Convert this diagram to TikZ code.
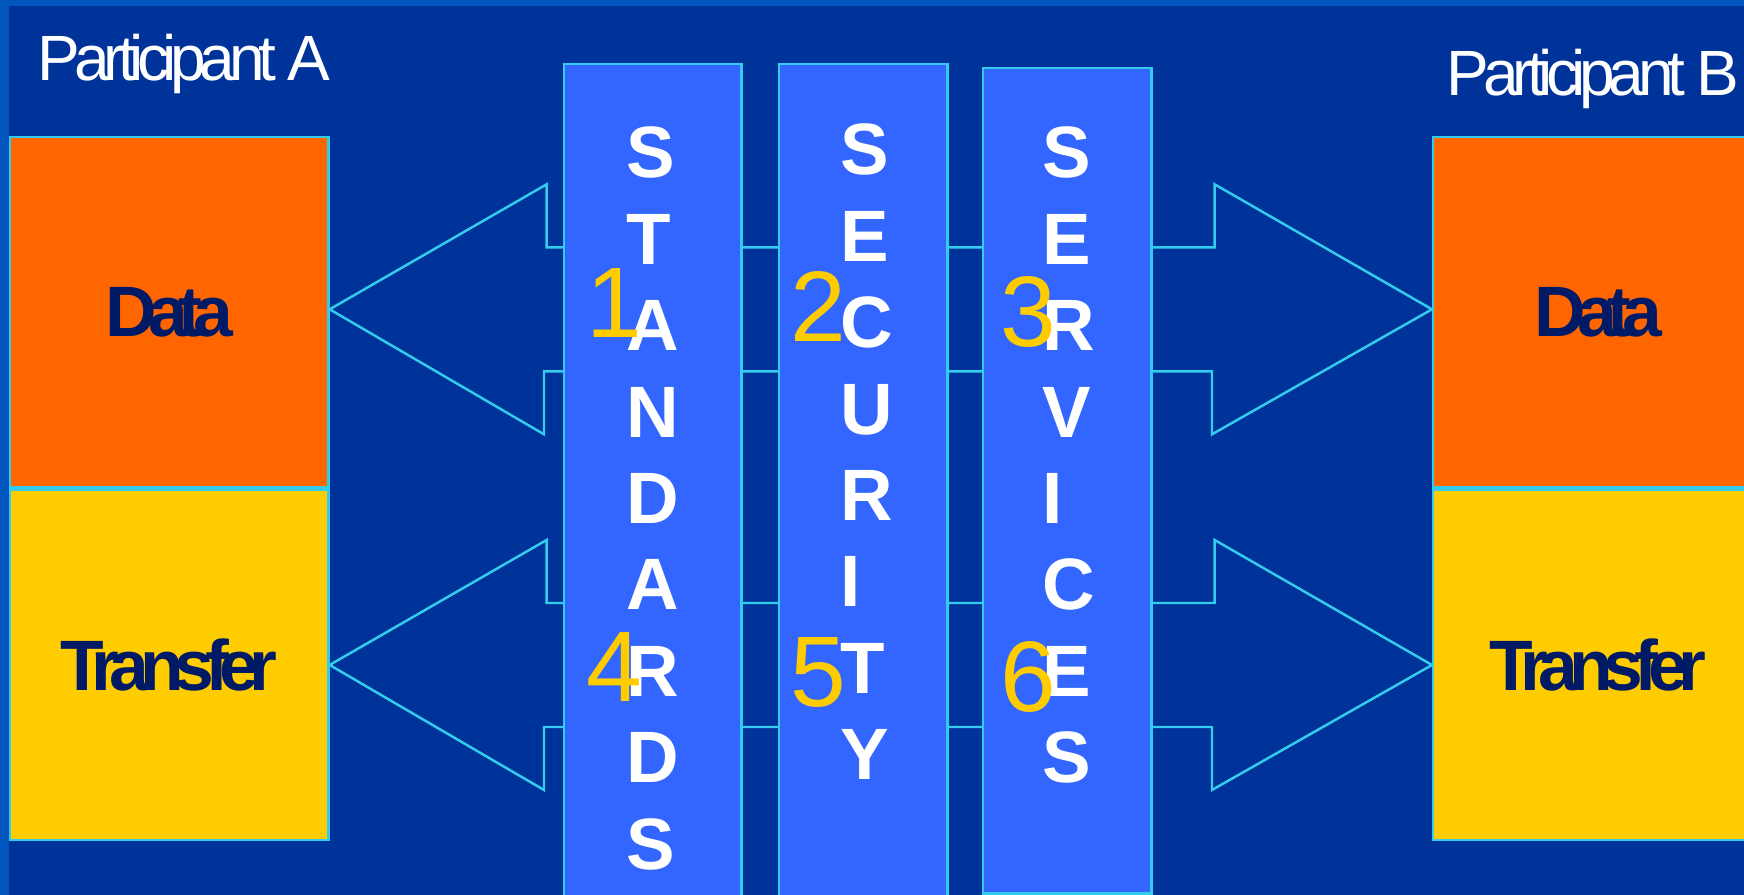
\documentclass[tikz,border=0pt]{standalone}
\usepackage{fontspec}
\setmainfont{Liberation Sans}
\newfontfamily\tightfont[LetterSpace=-10]{Liberation Sans}
\newfontfamily\boxfont[LetterSpace=-13]{Liberation Sans}
\usepackage{tikz}
\usetikzlibrary{positioning}
\usetikzlibrary{calc}
\definecolor{slidebg}{HTML}{003399}
\definecolor{framebl}{HTML}{0055BF}
\definecolor{colfill}{HTML}{3366FF}
\definecolor{edgecyan}{HTML}{33CCEE}
\definecolor{dataor}{HTML}{FF6600}
\definecolor{transye}{HTML}{FFCC00}
\definecolor{navytxt}{HTML}{001A66}

\begin{document}
\begin{tikzpicture}[x=0.01cm, y=-0.01cm,
    outl/.style={draw=edgecyan, line width=0.7pt},
    part/.style={text=white, inner sep=0pt, anchor=base west, font=\tightfont\fontsize{18.2}{20}\selectfont},
    layerbox/.style={outl, anchor=north west, inner sep=0pt, text=navytxt, font=\boxfont\bfseries\fontsize{20.3}{24}\selectfont},
    pillar/.style={outl, fill=colfill, anchor=north west, inner sep=0pt},
    letter/.style={text=white, inner sep=0pt, anchor=base west, font=\bfseries\fontsize{20.7}{24}\selectfont},
    num/.style={text=transye, inner sep=0pt, anchor=base west, font=\fontsize{28.5}{32}\selectfont}]

    \useasboundingbox (0,0) rectangle (1744,895);
    \clip (0,0) rectangle (1744,895);
    \fill[slidebg] (0,0) rectangle (1744,895);
    \fill[framebl] (0,0) rectangle (1744,6);
    \fill[framebl] (0,0) rectangle (9,895);

    \node[part] (partA) at (37,81) {Participant A};
    \node[part] (partB) at (1446,96) {Participant B};

    \node[layerbox, fill=dataor, minimum width=3.18cm, minimum height=3.5cm] (dataA) at (9,136) {Data};
    \node[layerbox, fill=transye, minimum width=3.18cm, minimum height=3.5cm, below=0pt of dataA] (transA) {Transfer};
    \node[layerbox, fill=dataor, minimum width=3.3cm, minimum height=3.5cm] (dataB) at (1432,136) {Data};
    \node[layerbox, fill=transye, minimum width=3.3cm, minimum height=3.5cm, below=0pt of dataB] (transB) {Transfer};

    % double arrows, under the columns
    \draw[outl] ([yshift=0.03cm]dataA.east) -- ++(217,-125) -- ++(0,63) -- ++(668,0) -- ++(0,-63)
        -- ([yshift=0.03cm]dataB.west) -- ++(-220,125) -- ++(0,-63) -- ++(-668,0) -- ++(0,63) -- cycle;
    \draw[outl] (transA.east) -- ++(217,-125) -- ++(0,63) -- ++(668,0) -- ++(0,-63)
        -- (transB.west) -- ++(-220,125) -- ++(0,-63) -- ++(-668,0) -- ++(0,63) -- cycle;

    \node[pillar, minimum width=1.77cm, minimum height=8.6cm] (colStd) at (563,63) {};
    \node[pillar, minimum width=1.68cm, minimum height=8.6cm] (colSec) at (778,63) {};
    \node[pillar, minimum width=1.68cm, minimum height=8.25cm] (colSrv) at (982,67) {};

    \foreach \ch [count=\i from 0] in {S,T,A,N,D,A,R,D,S}
      \node[letter] (std\i) at (626,178+86.4*\i) {\ch};
    \foreach \ch [count=\i from 0] in {S,E,C,U,R,I,T,Y}
      \node[letter] (sec\i) at (840,175+86.4*\i) {\ch};
    \foreach \ch [count=\i from 0] in {S,E,R,V,I,C,E,S}
      \node[letter] (srv\i) at (1042,178+86.4*\i) {\ch};

    \node[num] (n1) at (586,338) {1};
    \node[num] (n2) at (790,342) {2};
    \node[num] (n3) at (1000,347) {3};
    \node[num] (n4) at (586,702) {4};
    \node[num] (n5) at (790,707) {5};
    \node[num] (n6) at (1000,712) {6};
\end{tikzpicture}
\end{document}
